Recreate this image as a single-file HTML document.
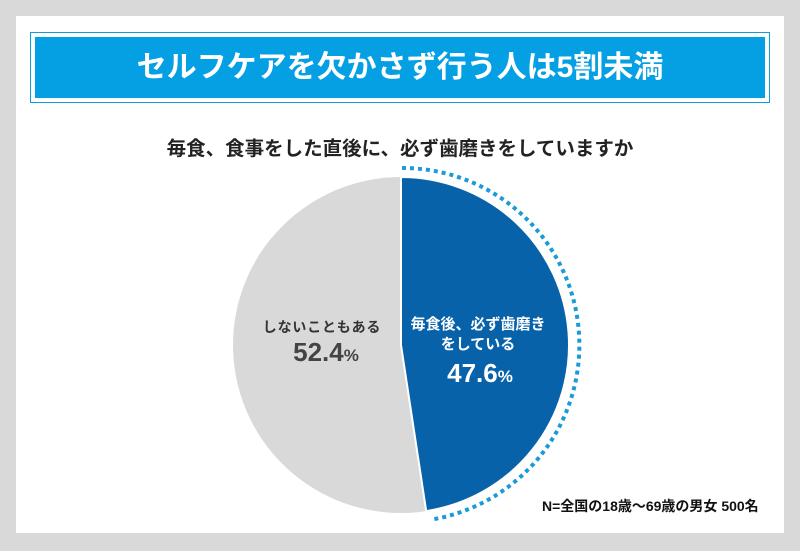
<!DOCTYPE html>
<html><head><meta charset="utf-8"><style>
body{margin:0;width:800px;height:551px;background:#d9d9d9;font-family:"Liberation Sans","Noto Sans CJK JP",sans-serif;position:relative;overflow:hidden}
.card{position:absolute;left:16px;top:16px;width:768px;height:517px;background:#fff}
.ban{position:absolute;left:30px;top:32px;width:738px;height:69px;border:1px solid #0aa0e0}
.ban2{position:absolute;left:35px;top:37px;width:730px;height:61px;background:#05a0e4;color:#fff;font-weight:bold;font-size:30px;text-align:center;line-height:61px}
.q{position:absolute;left:0;width:800px;top:132px;text-align:center;font-size:19.5px;font-weight:bold;color:#222}
.t{position:absolute;font-weight:bold;text-align:center;white-space:nowrap}
</style></head><body>
<div class="card"></div>
<div class="ban"></div>
<div class="ban2">セルフケアを欠かさず行う人は5割未満</div>
<div class="q">毎食、食事をした直後に、必ず歯磨きをしていますか</div>
<svg width="800" height="551" style="position:absolute;left:0;top:0">
<circle cx="401" cy="345" r="168" fill="#d9d9d9"/>
<path d="M401,345 L401,177 A168,168 0 0 1 426.2,511.1 Z" fill="#0862aa" stroke="#fff" stroke-width="2"/>
<path d="M402,168 A177,177 0 0 1 432,519.5" fill="none" stroke="#1a9ad6" stroke-width="4" stroke-dasharray="4 4"/>
</svg>
<div class="t" style="left:222px;top:317px;width:200px;font-size:14px;letter-spacing:0.8px;color:#333">しないこともある</div>
<div class="t" style="left:226px;top:337px;width:200px;font-size:26px;color:#444">52.4<span style="font-size:17px">%</span></div>
<div class="t" style="left:378px;top:315px;width:200px;font-size:15px;color:#fff;line-height:20px">毎食後、必ず歯磨き<br>をしている</div>
<div class="t" style="left:380px;top:358px;width:200px;font-size:26px;color:#fff">47.6<span style="font-size:17px">%</span></div>
<div class="t" style="left:542px;top:496px;width:230px;font-size:14px;color:#111;text-align:left">N=全国の18歳～69歳の男女 500名</div>
</body></html>
